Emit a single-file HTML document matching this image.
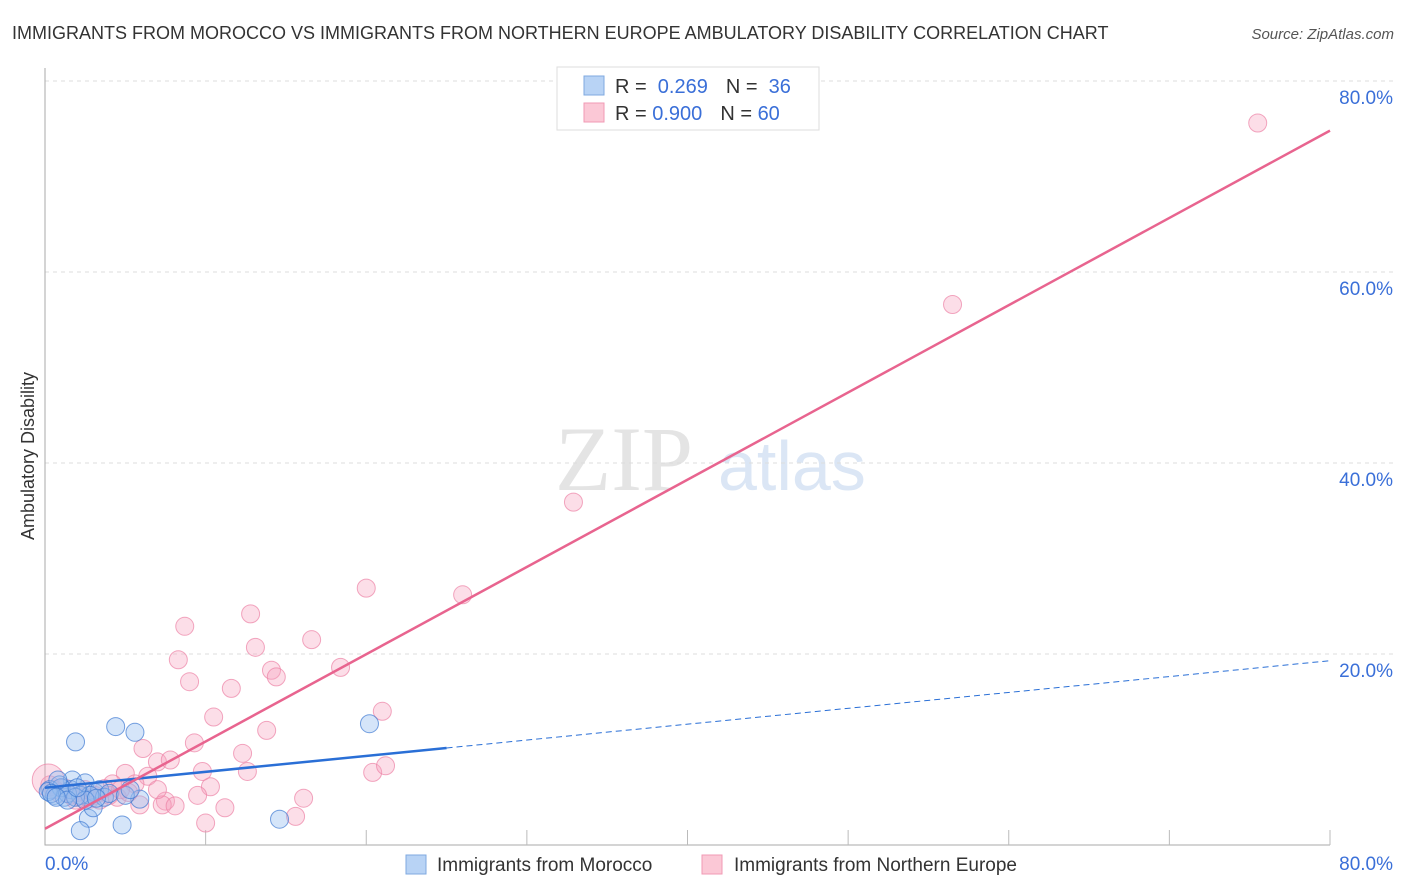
<!DOCTYPE html>
<html><head><meta charset="utf-8"><style>
body{margin:0;background:#fff;font-family:"Liberation Sans",sans-serif;}
svg{display:block}
</style></head><body>
<svg id="c" width="1406" height="892">
<text x="12" y="39" font-size="18" fill="#333">IMMIGRANTS FROM MOROCCO VS IMMIGRANTS FROM NORTHERN EUROPE AMBULATORY DISABILITY CORRELATION CHART</text>
<text x="1394" y="39" font-size="15" fill="#555" font-style="italic" text-anchor="end">Source: ZipAtlas.com</text>
<text transform="translate(34,456) rotate(-90)" font-size="18" fill="#333" text-anchor="middle">Ambulatory Disability</text>
<g><text x="555" y="490" font-size="92" fill="#e4e4e4" font-family="Liberation Serif,serif">ZIP</text><text x="718" y="490" font-size="70" fill="#dbe6f5">atlas</text></g>
<g id="grid"></g><g id="pts"></g><g id="lines"></g>
<g>
<rect x="557" y="67" width="262" height="63" fill="#fff" stroke="#ddd"/>
<rect x="584" y="76" width="20" height="19" fill="#b8d3f5" stroke="#7fa9e0"/>
<rect x="584" y="103" width="20" height="19" fill="#fbc8d6" stroke="#f09ab4"/>
<text x="615" y="93" font-size="20" fill="#333">R = <tspan fill="#3a6fd8">&#160;0.269</tspan><tspan dx="18">N = </tspan><tspan fill="#3a6fd8">&#160;36</tspan></text>
<text x="615" y="120" font-size="20" fill="#333">R = <tspan fill="#3a6fd8">0.900</tspan><tspan dx="18">N = </tspan><tspan fill="#3a6fd8">60</tspan></text>
</g>
<g>
<rect x="406" y="855" width="20" height="19" fill="#b8d3f5" stroke="#7fa9e0"/>
<text x="437" y="871" font-size="19" fill="#333">Immigrants from Morocco</text>
<rect x="702" y="855" width="20" height="19" fill="#fbc8d6" stroke="#f09ab4"/>
<text x="734" y="871" font-size="19" fill="#333">Immigrants from Northern Europe</text>
</g>
</svg>
<script>
const yTicks=[20,40,60,80];
const yTickLabels=["20.0%","40.0%","60.0%","80.0%"];
const xTickLabels=["0.0%","80.0%"];
const pinkX=[75.5,56.5,32.9,26.0,20.0,12.8,8.7,16.6,13.1,8.3,18.4,14.1,14.4,9.0,11.6,21.0,10.5,13.8,9.3,6.1,12.3,7.0,7.8,5.0,6.4,9.8,12.6,20.4,21.2,5.6,4.2,10.3,9.5,16.1,7.5,5.9,7.3,8.1,11.2,15.6,10.0,4.5,3.4,2.8,2.2,1.6,0.9,3.7,5.2,3.1,2.5,1.9,1.2,0.6,0.3,4.0,4.7,7.0,0.2,2.0];
const pinkY=[75.6,56.6,35.9,26.2,26.9,24.2,22.9,21.5,20.7,19.4,18.6,18.3,17.6,17.1,16.4,14.0,13.4,12.0,10.7,10.1,9.6,8.7,8.9,7.5,7.2,7.7,7.7,7.6,8.3,6.4,6.4,6.1,5.2,4.9,4.6,4.2,4.2,4.1,3.9,3.0,2.3,5.0,4.7,4.8,5.0,5.2,5.4,5.9,5.5,5.2,5.8,4.7,6.0,5.8,6.3,5.2,5.8,5.8,6.8,5.5];
const blueX=[1.9,4.4,5.6,20.2,2.7,2.2,4.8,14.6,5.9,3.0,1.7,2.5,0.9,0.3,0.6,1.2,1.6,2.2,3.1,3.4,3.7,4.0,5.0,1.0,1.4,0.2,0.8,2.8,1.9,0.4,2.5,3.2,5.3,1.4,2.0,0.7];
const blueY=[10.8,12.4,11.8,12.7,2.8,1.5,2.1,2.7,4.8,3.9,6.8,6.5,6.3,5.8,5.2,5.0,5.8,5.2,5.5,5.8,5.0,5.4,5.2,6.0,5.4,5.6,6.8,5.2,5.0,5.4,4.7,4.9,5.8,4.7,6.0,5.0];
const blueTrend=[6.0,19.3]; // y at x=0, x=80; solid until 25
const pinkTrend=[1.7,74.8];
const NS="http://www.w3.org/2000/svg";
const X=v=>45+v/80*1285, Y=v=>845-v/20*191;
function mk(t,a,p){const e=document.createElementNS(NS,t);for(const k in a)e.setAttribute(k,a[k]);p.appendChild(e);return e;}
const grid=document.getElementById('grid'),pts=document.getElementById('pts'),lines=document.getElementById('lines');
yTicks.forEach((t,i)=>{
 const l=mk('line',{x1:45,x2:1393,y1:Y(t),y2:Y(t),stroke:'#ddd','stroke-dasharray':'4,4'},grid);
 
 
 const tx=mk('text',{x:1393,y:Y(t)+23,'font-size':19,fill:'#3a6fd8','text-anchor':'end'},grid);tx.textContent=yTickLabels[i];
 
 
});
const ax=mk('path',{d:'M45 68V845H1330',stroke:'#aaa',fill:'none'},grid);


for(let k=1;k<=8;k++){const t=mk('line',{x1:X(k*10),x2:X(k*10),y1:830,y2:845,stroke:'#bbb'},grid);
 
 }
[[0,'start'],[80,'end']].forEach((d,i)=>{const tx=mk('text',{x:i?1393:45,y:870,'font-size':19,fill:'#3a6fd8','text-anchor':d[1]},grid);tx.textContent=xTickLabels[i];
 
 });
pinkX.forEach((v,i)=>{const c=mk('circle',{cx:X(v),cy:Y(pinkY[i]),r:i==58?16:9,fill:'rgba(246,160,188,0.35)',stroke:'rgba(236,130,165,0.7)'},pts);
 
 });
blueX.forEach((v,i)=>{const c=mk('circle',{cx:X(v),cy:Y(blueY[i]),r:9,fill:'rgba(150,190,240,0.4)',stroke:'rgba(60,120,210,0.7)'},pts);
 
 });
const bAt=x=>blueTrend[0]+(blueTrend[1]-blueTrend[0])*x/80;
let l=mk('line',{x1:X(0),y1:Y(bAt(0)),x2:X(25),y2:Y(bAt(25)),stroke:'#2a6fd6','stroke-width':2.5},lines);


l=mk('line',{x1:X(25),y1:Y(bAt(25)),x2:X(80),y2:Y(bAt(80)),stroke:'#2a6fd6','stroke-width':1,'stroke-dasharray':'6,4'},lines);


l=mk('line',{x1:X(0),y1:Y(pinkTrend[0]),x2:X(80),y2:Y(pinkTrend[1]),stroke:'#e8648f','stroke-width':2.5},lines);


</script>
</body></html>
